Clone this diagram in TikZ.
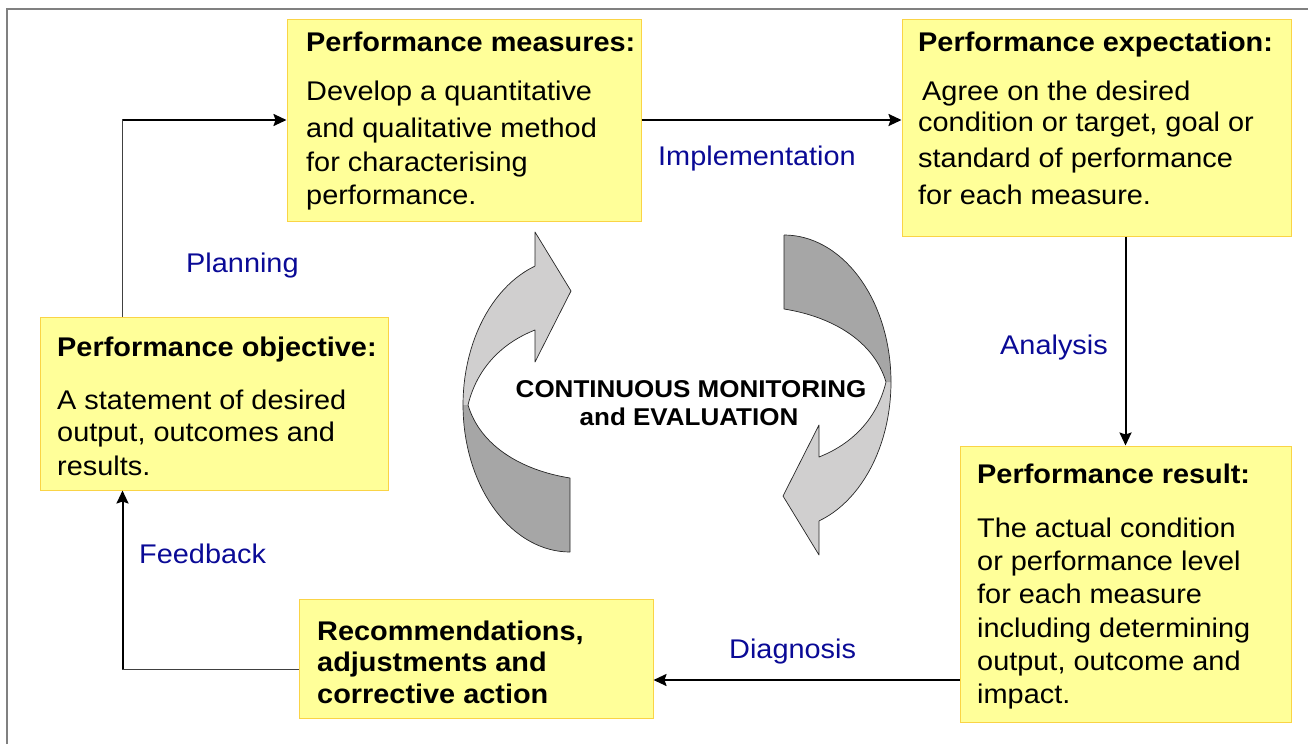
\documentclass[tikz,border=0pt]{standalone}
\usepackage{fontspec}
\setmainfont{Liberation Sans}[FakeStretch=1.07]
\usetikzlibrary{arrows.meta}

\definecolor{notefill}{RGB}{255,255,153}
\definecolor{noteedge}{RGB}{250,212,70}
\definecolor{stagelabel}{RGB}{10,10,150}
\definecolor{bandlight}{RGB}{208,207,207}
\definecolor{banddark}{RGB}{166,166,166}
\definecolor{framegray}{RGB}{128,128,128}

% one curved arrow of the monitoring cycle: light front face with the head,
% darker back face at the tail; faces are filled first, outlines drawn after
\newcommand{\drawturnarrow}{%
  \fill[bandlight]
    (535,232) -- (571,291) -- (535,362) -- (535,330)
    .. controls (502,343) and (477,368) .. (468,405)
    -- (463,405)
    -- plot[domain=180:250.9, samples=30] ({570+107*cos(\x)},{405+147*sin(\x)})
    -- cycle;
  \fill[banddark]
    (570,478) .. controls (520,470) and (480,445) .. (468,405)
    -- (463,405)
    -- plot[domain=90:180, samples=30] ({570+107*cos(270-\x)},{405+147*sin(270-\x)})
    -- cycle;
  % outlines
  \draw[band] (535,266) -- (535,232) -- (571,291) -- (535,362) -- (535,330)
    .. controls (502,343) and (477,368) .. (468,405)
    .. controls (480,445) and (520,470) .. (570,478) -- (570,552);
  \draw[band] plot[domain=90:250.9, samples=60] ({570+107*cos(340.9-\x)},{405+147*sin(340.9-\x)});
}

\begin{document}
\begin{tikzpicture}[x=1pt,y=-1pt,
  note/.style={draw=noteedge, fill=notefill, line width=1pt, inner sep=0pt},
  head/.style={anchor=base west, inner sep=0pt, font=\fontsize{27}{32}\selectfont\bfseries},
  body/.style={anchor=base west, inner sep=0pt, font=\fontsize{27}{32}\selectfont},
  stage/.style={anchor=base west, inner sep=0pt, text=stagelabel, font=\fontsize{27}{32}\selectfont},
  flow/.style={line width=2pt, -{Stealth[length=13pt,width=12pt,inset=2pt]}},
  lead/.style={line width=1pt, draw=black!75},
  band/.style={draw=black!85, line width=0.7pt, line join=round},
  centre/.style={anchor=base, inner sep=0pt, font=\fontsize{24.3}{29}\selectfont\bfseries}
]
\useasboundingbox (0,0) rectangle (1308,744);

% page frame
\draw[framegray, line width=1.4pt] (7,744) -- (7,9) -- (1308,9);

% stage boxes
\node[note, minimum width=354pt, minimum height=202pt] (meas) at (464,120) {};
\node[note, minimum width=389pt, minimum height=217pt] (expe) at (1096.5,127.5) {};
\node[note, minimum width=348pt, minimum height=173pt] (obj)  at (214,403.5) {};
\node[note, minimum width=331pt, minimum height=276pt] (res)  at (1125.5,584) {};
\node[note, minimum width=354pt, minimum height=119pt] (rec)  at (476,658.5) {};

% Performance measures
\node[head] (meas0) at (306,51)  {Performance measures:};
\node[body] (meas1) at (306,100) {Develop a quantitative};
\node[body] (meas2) at (306,137) {and qualitative method};
\node[body] (meas3) at (306,171.5) {for characterising};
\node[body] (meas4) at (306,204) {performance.};

% Performance expectation
\node[head] (expe0) at (918,51)  {Performance expectation:};
\node[body] (expe1) at (922,100) {Agree on the desired};
\node[body] (expe2) at (918,131) {condition or target, goal or};
\node[body] (expe3) at (918,167) {standard of performance};
\node[body] (expe4) at (918,204) {for each measure.};

% Performance objective
\node[head] (obj0) at (57,356) {Performance objective:};
\node[body] (obj1) at (57,409) {A statement of desired};
\node[body] (obj2) at (57,441) {output, outcomes and};
\node[body] (obj3) at (57,475) {results.};

% Performance result
\node[head] (res0) at (977,483) {Performance result:};
\node[body] (res1) at (977,537) {The actual condition};
\node[body] (res2) at (977,570) {or performance level};
\node[body] (res3) at (977,603.5) {for each measure};
\node[body] (res4) at (977,637) {including determining};
\node[body] (res5) at (977,670) {output, outcome and};
\node[body] (res6) at (977,703) {impact.};

% Recommendations
\node[head] (rec1) at (317,640)   {Recommendations,};
\node[head] (rec2) at (317,671.5) {adjustments and};
\node[head] (rec3) at (317,703)   {corrective action};

% stage labels
\node[stage] (lplan) at (186,272) {Planning};
\node[stage] (limpl) at (658,165) {Implementation};
\node[stage] (lanal) at (1000,354) {Analysis};
\node[stage] (ldiag) at (729,658) {Diagnosis};
\node[stage] (lfeed) at (139,563) {Feedback};

% connectors
\coordinate (objtop) at ([xshift=83pt]obj.north west);
\coordinate (objbot) at ([xshift=83pt]obj.south west);
\coordinate (resport) at ([yshift=-96pt]res.west);
\coordinate (recport) at ([yshift=-10.5pt]rec.west);

\draw[lead] (objtop) -- ([yshift=1pt]objtop |- meas.west);
\draw[flow] (objtop |- meas.west) -- (meas.west);

\draw[flow] (meas.east) -- (meas.east -| expe.west);
\draw[flow] (expe.south -| res.north) -- (res.north);
\draw[flow] (resport) -- (resport -| rec.east);

\draw[lead] (recport) -- ([xshift=-1pt]recport -| objbot);
\draw[flow] (recport -| objbot) -- (objbot);

% continuous monitoring cycle
\drawturnarrow
\begin{scope}[rotate around={180:(677,393.5)}]
  \drawturnarrow
\end{scope}

\node[centre] (cme1) at (691,397) {CONTINUOUS MONITORING};
\node[centre] (cme2) at (689,425) {and EVALUATION};
\end{tikzpicture}
\end{document}
